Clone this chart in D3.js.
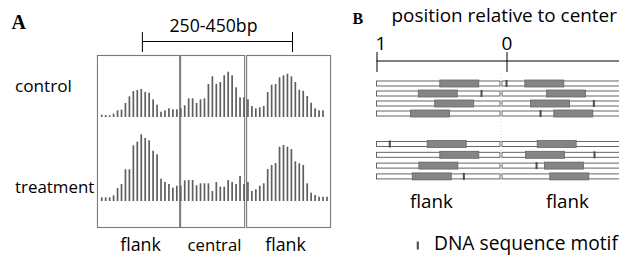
<!DOCTYPE html>
<html><head><meta charset="utf-8">
<script src="https://cdn.jsdelivr.net/npm/d3@7"></script>
<style>body{margin:0;background:#fff}svg{display:block}text{font-family:"Open Sans",sans-serif;fill:#000}</style>
</head><body><svg id="c" width="619" height="256"></svg>
<script>
// ---- Panel A data ----
const controlVals = [2.3,2,1.7,3.3,6.7,7.3,14,20.7,26,27,28,25,24.3,17.7,12.3,5.3,6.7,8.7,7.7,7.7,8.7,11.7,
  18.7,18.7,14,17.7,18.7,33,40.7,33.3,35,41.7,45.3,41.7,29.7,19.7,19.7,17.7,
  11,8.7,9.7,11,25,32.3,33,39.7,41.7,43.3,40.7,35,27.3,26.3,21,14.3,8.7,6.7,6.7];
const treatmentVals = [3.7,3.7,3.7,5.7,13,17,31.7,31.7,55.7,59.3,66.7,63,60.7,50.3,46.7,22.3,19,17,13.3,15.3,15.3,20.7,
  21,21,15.7,17.7,17.7,17.7,10,19,14.3,14.3,21,19,17,25,17,19,
  10,11.7,15.3,17.7,32,36,38,54.3,56,54.3,52,39.7,37.7,36,17.7,8.3,6,4.3,4.3,4.3];
const conditions = ["control","treatment"];
const regions = ["flank","central","flank"];
const regionBounds = [[-1.2,19.6],[19.85,36.05],[36.55,57.8]]; // in bar-index units
const spanLabel = "250-450bp";

// ---- Panel B data ----
const axisTicks = [-1, 0];
const axisTickLabels = ["1","0"];
const blockWidth = 0.3;
const group1Left  = [-0.513,-0.679,-0.552,-0.738];
const group1Right = [0.141,0.308,0.185,0.364];
const group1Motif = [0.0,-0.192,0.672,0.262];
const group2Left  = [-0.61,-0.513,-0.674,-0.725];
const group2Right = [0.236,0.146,0.292,0.333];
const group2Motif = [-0.898,0.677,0.231,-0.328];
const sideLabels = ["flank","flank"];

const svg = d3.select("#c");

// ===== Panel A =====
const x = d3.scaleLinear().domain([0,57]).range([101.7,326.9]);
const h = d3.scaleLinear().domain([0,70]).range([0,70]);
const baselines = {control:117, treatment:201};

svg.append("text").text("A").attr("x",11.5).attr("y",28.5)
  .style("font-family","'Liberation Serif',serif").style("font-weight","bold").style("font-size","20px");

// bracket
const bx0 = x(10.3), bx1 = x(48.3);
const br = svg.append("g").attr("stroke","#000").attr("stroke-width",1);
br.append("line").attr("x1",bx0).attr("x2",bx1).attr("y1",41.5).attr("y2",41.5);
br.append("line").attr("x1",bx0).attr("x2",bx0).attr("y1",32).attr("y2",52);
br.append("line").attr("x1",bx1).attr("x2",bx1).attr("y1",32).attr("y2",52);
svg.append("text").text(spanLabel).attr("x",213.5).attr("y",31.5).attr("text-anchor","middle").style("font-size","17.7px");

// boxes
svg.append("g").selectAll("rect").data(regionBounds).join("rect")
  .attr("x",d=>x(d[0])+0.5).attr("y",55.5).attr("width",d=>x(d[1])-x(d[0])).attr("height",172)
  .attr("fill","none").attr("stroke","#7a7a7a").attr("stroke-width",1.1);

// bars
[["control",controlVals],["treatment",treatmentVals]].forEach(([k,vals])=>{
  svg.append("g").selectAll("rect").data(vals).join("rect")
    .attr("x",(d,i)=>x(i)-0.8).attr("width",1.7)
    .attr("y",d=>baselines[k]-h(d)).attr("height",d=>h(d))
    .attr("fill","#5f5f5f");
});

svg.append("text").text("control").attr("x",15).attr("y",92).style("font-size","17.2px");
svg.append("text").text("treatment").attr("x",15).attr("y",193).style("font-size","16.9px");

svg.append("g").selectAll("text").data(regions).join("text")
  .text(d=>d).attr("x",(d,i)=>[140.5,214.5,285.5][i]).attr("y",250.5)
  .attr("text-anchor","middle").style("font-size",(d,i)=>i===1?"16.7px":"17.8px");

// ===== Panel B =====
const bxs = d3.scaleLinear().domain([-1,0]).range([376.5,506.5]);
svg.append("text").text("B").attr("x",352.5).attr("y",24)
  .style("font-family","'Liberation Serif',serif").style("font-weight","bold").style("font-size","16px");
svg.append("text").text("position relative to center").attr("x",391.5).attr("y",21.5).style("font-size","18.9px");

const axG = svg.append("g").attr("transform","translate(0,61)");
const ax = d3.axisTop(bxs).tickValues(axisTicks).tickFormat((d,i)=>axisTickLabels[i]).tickSize(0).tickPadding(11);
axG.call(ax);
axG.select(".domain").remove();
axG.append("line").attr("x1",bxs(-1)).attr("x2",619).attr("stroke","#000");
axG.selectAll(".tick line").remove();
axG.selectAll(".tick").append("line").attr("y1",-9).attr("y2",11).attr("stroke","#000");
axG.selectAll(".tick text").attr("text-anchor",(d)=>d===-1?"start":"middle").attr("dx",d=>d===-1?-1.5:0)
  .style("font-size","19px").style("font-family","'Open Sans',sans-serif").attr("fill","#000");

const leftEnd = -0.05, rightStart = -0.035;
function drawGroup(lefts, rights, motifs, yTop, gap){
  lefts.forEach((l,i)=>{
    const y = yTop + i*gap;
    const g = svg.append("g");
    g.append("rect").attr("x",bxs(-1)).attr("y",y).attr("width",bxs(leftEnd)-bxs(-1)).attr("height",5)
      .attr("fill","#fff").attr("stroke","#555").attr("stroke-width",0.9);
    g.append("rect").attr("x",bxs(rightStart)).attr("y",y).attr("width",640-bxs(rightStart)).attr("height",5)
      .attr("fill","#fff").attr("stroke","#555").attr("stroke-width",0.9);
    [l, rights[i]].forEach(s=>{
      g.append("rect").attr("x",bxs(s)).attr("y",y-1).attr("width",bxs(s+blockWidth)-bxs(s)).attr("height",7)
        .attr("fill","#858585").attr("stroke","#666").attr("stroke-width",0.8);
    });
    g.append("rect").attr("x",bxs(motifs[i])-1).attr("y",y-1).attr("width",2).attr("height",7).attr("fill","#4a4a4a");
  });
}
drawGroup(group1Left, group1Right, group1Motif, 81, 10);
drawGroup(group2Left, group2Right, group2Motif, 141.5, 10.8);

svg.append("line").attr("x1",bxs(-0.042)).attr("x2",bxs(-0.042)).attr("y1",74).attr("y2",185)
  .attr("stroke","#ddd").attr("stroke-dasharray","1,2");

svg.append("g").selectAll("text").data(sideLabels).join("text").text(d=>d)
  .attr("x",(d,i)=>i===0?431.5:567.5).attr("y",207.5).attr("text-anchor","middle").style("font-size","18.8px");

svg.append("rect").attr("x",bxs(-0.683)-1).attr("y",241.5).attr("width",2.2).attr("height",8).attr("fill","#555");
svg.append("text").text("DNA sequence motif").attr("x",434).attr("y",250).style("font-size","19.2px");
</script></body></html>
